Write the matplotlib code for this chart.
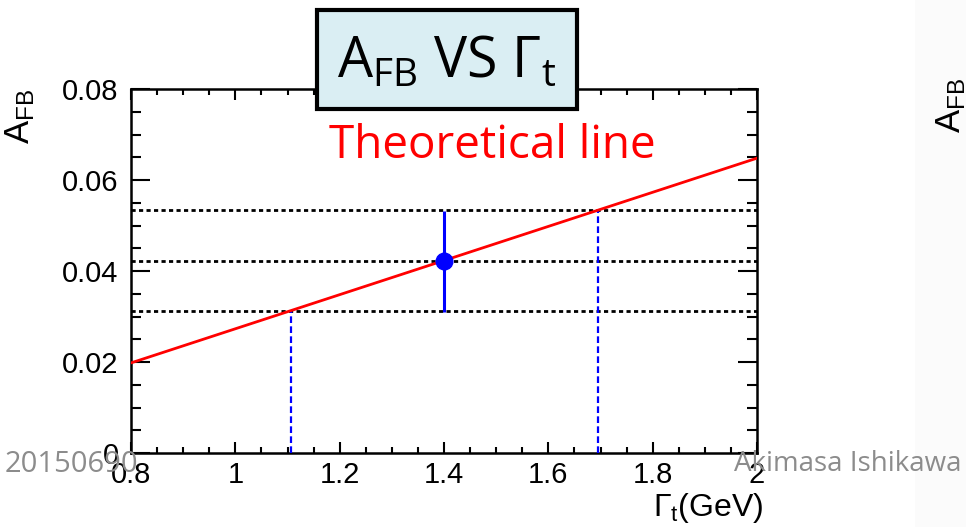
import matplotlib
matplotlib.use("Agg")
import matplotlib.pyplot as plt
from matplotlib.patches import Rectangle
from matplotlib.ticker import MultipleLocator

plt.rcParams["font.family"] = ["Liberation Sans", "DejaVu Sans"]
plt.rcParams["mathtext.fontset"] = "custom"
plt.rcParams["mathtext.rm"] = "Open Sans"
plt.rcParams["mathtext.sf"] = "Liberation Sans"

# theoretical line (end points)
line_gamma = [0.8, 2.0]
line_afb = [0.0198, 0.0648]

# measured point with error
meas_gamma = [1.4]
meas_afb = [0.0421]
meas_err = [0.0111]

# gamma_t where the line meets the error band
band_afb = [0.0311, 0.0421, 0.0533]
cross_gamma = [1.107, 1.695]
cross_afb = [0.0311, 0.0533]

W, H = 966, 527
fig = plt.figure(figsize=(W / 100, H / 100), dpi=100)
fig.patch.set_facecolor("white")

# faint panel of the next slide plot on the right edge
fig.patches.append(Rectangle((915 / W, 0), (W - 915) / W, 1, transform=fig.transFigure,
                             facecolor="#fbfbfb", edgecolor="none", zorder=0))

ax = fig.add_axes([131 / W, 1 - 453 / H, (757 - 131) / W, (453 - 89) / H])
ax.set_xlim(0.8, 2.0)
ax.set_ylim(0, 0.08)

for y in band_afb:
    ax.axhline(y, color="black", lw=2.0, dashes=(1.5, 1.2), zorder=2)
for g, a in zip(cross_gamma, cross_afb):
    ax.plot([g, g], [0, a], color="blue", lw=1.6, dashes=(3, 1.5), zorder=3)
ax.plot(line_gamma, line_afb, color="red", lw=2.0, zorder=4)
ax.errorbar(meas_gamma, meas_afb, yerr=meas_err, fmt="o", color="blue", ms=12,
            elinewidth=2.2, capsize=0, zorder=5)

ax.xaxis.set_major_locator(MultipleLocator(0.2))
ax.xaxis.set_minor_locator(MultipleLocator(0.05))
ax.yaxis.set_major_locator(MultipleLocator(0.02))
ax.yaxis.set_minor_locator(MultipleLocator(0.005))
ax.set_xticks([0.8, 1.0, 1.2, 1.4, 1.6, 1.8, 2.0], ["0.8", "1", "1.2", "1.4", "1.6", "1.8", "2"])
ax.set_yticks([0, 0.02, 0.04, 0.06, 0.08], ["0", "0.02", "0.04", "0.06", "0.08"])
ax.tick_params(axis="both", which="both", direction="in", top=True, right=True,
               labelsize=21, width=1.5, colors="black")
ax.tick_params(axis="x", which="major", length=8, pad=6)
ax.tick_params(axis="x", which="minor", length=4)
ax.tick_params(axis="y", which="major", length=14, pad=9)
ax.tick_params(axis="y", which="minor", length=7)
for s in ax.spines.values():
    s.set_linewidth(1.8)

ax.set_ylabel(r"$\mathsf{A_{FB}}$", fontsize=25, loc="top")
ax.yaxis.set_label_coords(-0.15, 1.0)
ax.set_xlabel(r"$\mathsf{\Gamma_{t}}$(GeV)", fontsize=23, loc="right")
ax.xaxis.set_label_coords(1.01, -0.105)

# title box
fig.patches.append(Rectangle((317 / W, 1 - 109 / H), 260 / W, 99 / H, transform=fig.transFigure,
                             facecolor="#daeef3", edgecolor="black", lw=3, zorder=10))
fig.text(447 / W, 1 - 62 / H, r"$\mathrm{A_{FB}}$ VS $\mathrm{\Gamma_{t}}$", fontsize=40,
         family="Open Sans", ha="center", va="center", zorder=11)
fig.text(492 / W, 1 - 146 / H, "Theoretical line", fontsize=33, family="Open Sans",
         color="red", ha="center", va="center", zorder=11)

# slide footer
fig.text(5 / W, 1 - 464 / H, "20150690", fontsize=21, family="Open Sans", color="#8c8c8c",
         ha="left", va="center", zorder=11)
fig.text(962 / W, 1 - 464 / H, "Akimasa Ishikawa", fontsize=20, family="Open Sans",
         color="#8c8c8c", ha="right", va="center", zorder=11)

# y label of the next plot, cut by the slide edge
fig.text(951 / W, 1 - 105 / H, r"$\mathsf{A_{FB}}$", fontsize=25, rotation=90,
         ha="center", va="center")

fig.savefig("out.png", dpi=100)
